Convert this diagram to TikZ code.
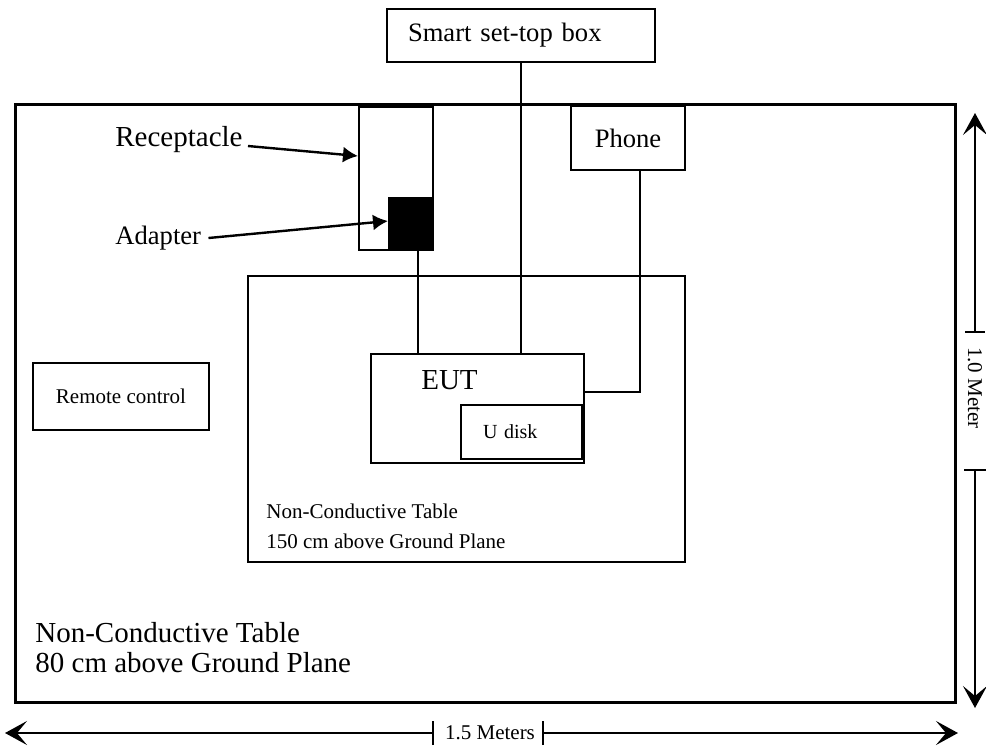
\documentclass[tikz,border=0pt]{standalone}
\usepackage{fontspec}
\setmainfont{Liberation Serif}
\usetikzlibrary{arrows.meta}

\tikzset{
  box/.style={draw, line width=1pt, inner sep=0pt},
  wire/.style={line width=1pt},
  ptr/.style={line width=1.2pt, -{Latex[length=7.5pt,width=8pt]}},
  dimline/.style={line width=0.9pt, -{Stealth[length=11pt,width=12pt,inset=5pt]}},
  bigtxt/.style={font=\fontsize{14.5}{15}\selectfont},
  midtxt/.style={font=\fontsize{13.3}{15}\selectfont},
  smalltxt/.style={font=\fontsize{10.5}{15}\selectfont},
}

\begin{document}
\begin{tikzpicture}[x=0.5pt, y=-0.5pt]
\useasboundingbox (0,0) rectangle (986,751);

\node[box, line width=1.5pt, minimum width=470pt, minimum height=299pt] (outer) at (485,403) {};
\node[box, minimum width=218.5pt, minimum height=143pt] (inner) at (466.5,419) {};

\node[box, midtxt, minimum width=134pt, minimum height=26.5pt, text width=113pt, inner xsep=10.5pt, align=left] (stb) at (521,35.5) {Smart set-top box};
\node[box, minimum width=37pt, minimum height=71.5pt] (rcp) at (396,178.5) {};
\node[box, fill=black, minimum width=22pt, minimum height=26pt] (adp) at (411,224) {};
\node[box, midtxt, minimum width=57pt, minimum height=32pt] (phn) at (628,138) {Phone};
\node[box, smalltxt, minimum width=88pt, minimum height=33.5pt] (rmt) at (121,396.5) {Remote control};
\node[box, minimum width=106.5pt, minimum height=54.5pt] (eut) at (477.5,408.5) {};
\node[bigtxt, inner sep=0pt, anchor=base] (euttxt) at (449.5,389) {EUT};
\node[box, font=\fontsize{10}{12}\selectfont, minimum width=60.5pt, minimum height=27pt, text width=38.5pt, inner xsep=11pt, align=left] (udk) at (521.5,432) {U disk};

\node[bigtxt, inner sep=0pt, anchor=base west] (rcplbl) at (115,146) {Receptacle};
\node[midtxt, inner sep=0pt, anchor=base west] (adplbl) at (115,244) {Adapter};
\draw[ptr] ([xshift=2.5pt]rcplbl.base east) -- ([yshift=11.25pt]rcp.west);
\draw[ptr] ([xshift=3.5pt,yshift=3pt]adplbl.base east) -- ([yshift=1.5pt]adp.west);

\coordinate (adpout) at ([xshift=3.5pt]adp.south);
\coordinate (phnout) at ([xshift=6pt]phn.south);
\draw[wire] (adpout) -- (adpout |- eut.north);
\draw[wire] (stb.south) -- (stb.south |- eut.north);
\draw[wire] (phnout) |- ([yshift=8.25pt]eut.east);

\node[smalltxt, inner sep=0pt, align=left, anchor=west] (innerlbl) at (266,526) {Non-Conductive Table\\150 cm above Ground Plane};
\node[bigtxt, inner sep=0pt, align=left, anchor=west] (outerlbl) at (35,648) {Non-Conductive Table\\80 cm above Ground Plane};

\coordinate (vtop) at (975,113);
\coordinate (vtick1) at (975,332);
\coordinate (vtick2) at (975,470);
\coordinate (vbot) at (975,708);
\draw[dimline] (vtick1) -- (vtop);
\draw[dimline] (vtick2) -- (vbot);
\draw[wire] ([xshift=-5pt]vtick1) -- ([xshift=5pt]vtick1);
\draw[wire] ([xshift=-5.5pt]vtick2) -- ([xshift=5.5pt]vtick2);
\node[smalltxt, inner sep=0pt, rotate=-90] (vlbl) at (975,388) {1.0 Meter};

\coordinate (hleft) at (5,733);
\coordinate (htick1) at (433,733);
\coordinate (htick2) at (543,733);
\coordinate (hright) at (958,733);
\draw[dimline] (htick1) -- (hleft);
\draw[dimline] (htick2) -- (hright);
\draw[wire] ([yshift=-6pt]htick1) -- ([yshift=6pt]htick1);
\draw[wire] ([yshift=-6pt]htick2) -- ([yshift=6pt]htick2);
\node[smalltxt, inner sep=0pt] (hlbl) at (490,733) {1.5 Meters};
\end{tikzpicture}
\end{document}
